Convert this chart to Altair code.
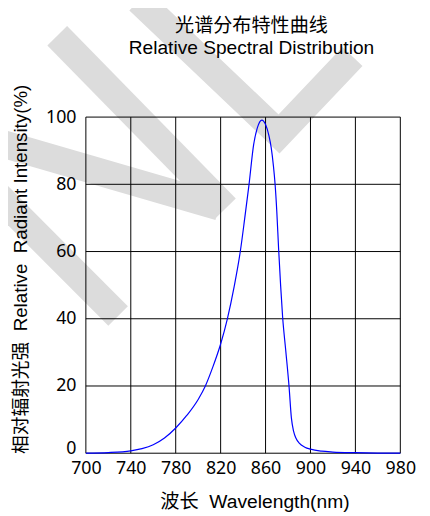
import altair as alt
import pandas as pd

# Spectral curve
wavelength = [700, 720, 740, 750, 760, 770, 780, 790, 800, 806.4, 813, 820, 826, 832, 837.5,
              841.5, 845.3, 849.4, 852.6, 856.7, 860, 863, 865, 867, 868.5,
              870, 871.6, 873.4, 875.2, 878, 881, 883, 885, 887, 890, 895, 900, 910, 920, 940, 960, 980]
intensity = [0.05, 0.2, 0.7, 1.35, 2.5, 4.5, 7.5, 11.3, 16.0, 20, 25.6, 32.5, 40, 49.5, 60,
             70, 80, 91.8, 96.7, 99.1, 97.8, 94.5, 91, 85.5, 80,
             72, 61, 50, 40.5, 30.5, 19.5, 10.5, 6.5, 4.5, 3.0, 1.8, 1.2, 0.6, 0.35, 0.15, 0.05, 0]

x_ticks = [700, 740, 780, 820, 860, 900, 940, 980]
y_ticks = [0, 20, 40, 60, 80, 100]

# Watermark: straight stripes (start / end, in data units)
wm_x1 = [674.5, 618.9, 618.9]
wm_y1 = [124.2, 92.7, 77.6]
wm_x2 = [824.7, 818.8, 728.7]
wm_y2 = [72.9, 73.3, 40.8]
# Watermark: the V-shaped stripe (polyline)
v_x = [747.2, 872.0, 937.4]
v_y = [134.7, 95.0, 118.0]

title_lines = ["光谱分布特性曲线", "Relative Spectral Distribution"]
x_title = "波长\u00a0\u00a0Wavelength(nm)"
y_title = "相对辐射光强\u00a0\u00a0Relative\u00a0\u00a0Radiant Intensity(%)"

LATIN = "'Liberation Sans', 'Noto Sans CJK SC', sans-serif"
NUM = "'Noto Sans', 'Liberation Sans', sans-serif"

curve_df = pd.DataFrame({"wl": wavelength, "val": intensity})
xgrid_df = pd.DataFrame({"gx": x_ticks})
ygrid_df = pd.DataFrame({"gy": y_ticks})
wm_df = pd.DataFrame({"x1": wm_x1, "y1": wm_y1, "x2": wm_x2, "y2": wm_y2})
v_df = pd.DataFrame({"vx": v_x, "vy": v_y})

xs = alt.Scale(domain=[700, 980], nice=False, zero=False)
ys = alt.Scale(domain=[0, 100], nice=False, zero=False)

x_axis = alt.Axis(
    title=x_title, values=x_ticks, grid=False, domain=False, ticks=False,
    labelFont=NUM, labelFontSize=18, labelColor="#000", labelPadding=7,
    labelFlush=False, labelOverlap=False,
    labelExpr="datum.value >= 940 ? '\u00a0\u00a0' + datum.label : (datum.value == 700 ? '\u00a0' + datum.label : datum.label)",
    titleFont=LATIN, titleFontSize=19.5, titleFontWeight="normal", titleColor="#000",
    titleX=171, titleY=55.5, titleBaseline="alphabetic", titleAlign="center",
    zindex=1,
)
# top axis used only to carry the two-line chart title
top_axis = alt.Axis(
    orient="top", title=title_lines, labels=False, ticks=False, domain=False, grid=False,
    titleFont=LATIN, titleFontSize=19.4, titleFontWeight="normal", titleColor="#000",
    titleX=167.5, titleY=-86.5, titleBaseline="alphabetic", titleAlign="center",
    titleLineHeight=22, zindex=1,
)
y_axis = alt.Axis(
    title=y_title, values=y_ticks, grid=False, domain=False, ticks=False,
    labelFont=NUM, labelFontSize=18, labelColor="#000", labelPadding=10,
    labelOverlap=False,
    labelBaseline={"condition": {"test": "datum.value == 0", "value": "alphabetic"}, "value": "middle"},
    titleFont=LATIN, titleFontSize=19, titleFontWeight="normal", titleColor="#000",
    titleX=-66, titleY=154, titleAngle=270, titleBaseline="middle", titleAlign="center",
    zindex=1,
)

WM = "#dcdcdc"
wm_rules = alt.Chart(wm_df).mark_rule(color=WM, strokeWidth=28, strokeCap="butt").encode(
    x=alt.X("x1:Q", scale=xs, axis=None),
    y=alt.Y("y1:Q", scale=ys, axis=y_axis),
    x2="x2:Q",
    y2="y2:Q",
)
wm_v = alt.Chart(v_df).mark_line(
    color=WM, strokeWidth=28, strokeCap="butt", strokeJoin="miter", strokeMiterLimit=10
).encode(
    x=alt.X("vx:Q", scale=xs, axis=None),
    y=alt.Y("vy:Q", scale=ys, axis=y_axis),
)

vgrid = alt.Chart(xgrid_df).mark_rule(color="#000", strokeWidth=1).encode(
    x=alt.X("gx:Q", scale=xs, axis=top_axis)
)
hgrid = alt.Chart(ygrid_df).mark_rule(color="#000", strokeWidth=1).encode(
    y=alt.Y("gy:Q", scale=ys, axis=y_axis)
)

curve = alt.Chart(curve_df).mark_line(color="#0000ff", strokeWidth=1.2, interpolate="monotone").encode(
    x=alt.X("wl:Q", scale=xs, axis=x_axis),
    y=alt.Y("val:Q", scale=ys, axis=y_axis),
)

chart = alt.layer(wm_rules, wm_v, vgrid, hgrid, curve).resolve_axis(
    x="independent"
).properties(
    width=319,
    height=341,
    autosize=alt.AutoSizeParams(type="none"),
    padding={"left": 79, "top": 107, "right": 22, "bottom": 58},
).configure_view(strokeWidth=0)

chart.save("out.html", embed_options={"renderer": "svg", "actions": False})
